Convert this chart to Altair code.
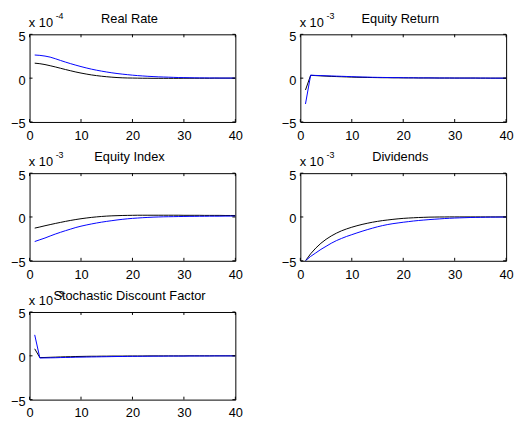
import altair as alt
import pandas as pd

steps = list(range(1, 41))

titles = ["Real Rate", "Equity Return", "Equity Index", "Dividends", "Stochastic Discount Factor"]
exponents = ["-4", "-3", "-3", "-3", "-3"]

x_ticks = [0, 10, 20, 30, 40]
y_ticks = [-5, 0, 5]

real_rate_black = [1.71, 1.65, 1.55, 1.42, 1.28, 1.13, 0.98, 0.84, 0.70, 0.58,
                   0.47, 0.37, 0.29, 0.22, 0.16, 0.11, 0.07, 0.04, 0.02, 0.01,
                   0.00, -0.01, -0.01, -0.02, -0.02, -0.02, -0.02, -0.02, -0.02, -0.01,
                   -0.01, -0.01, -0.01, -0.01, -0.01, 0.00, 0.00, 0.00, 0.00, 0.00]
real_rate_blue = [2.64, 2.60, 2.52, 2.40, 2.22, 2.02, 1.83, 1.65, 1.48, 1.32,
                  1.17, 1.03, 0.91, 0.80, 0.70, 0.61, 0.53, 0.46, 0.40, 0.34,
                  0.29, 0.25, 0.21, 0.18, 0.15, 0.13, 0.11, 0.09, 0.07, 0.06,
                  0.05, 0.04, 0.03, 0.03, 0.02, 0.02, 0.01, 0.01, 0.01, 0.00]

equity_return_black = [-1.35, 0.32, 0.29, 0.26, 0.23, 0.20, 0.18, 0.16, 0.14, 0.12,
                       0.10, 0.09, 0.08, 0.07, 0.06, 0.05, 0.05, 0.04, 0.04, 0.03,
                       0.03, 0.03, 0.02, 0.02, 0.02, 0.02, 0.01, 0.01, 0.01, 0.01,
                       0.01, 0.01, 0.01, 0.01, 0.00, 0.00, 0.00, 0.00, 0.00, 0.00]
equity_return_blue = [-2.95, 0.34, 0.31, 0.29, 0.27, 0.25, 0.23, 0.21, 0.19, 0.17,
                      0.15, 0.13, 0.12, 0.10, 0.09, 0.08, 0.07, 0.06, 0.06, 0.05,
                      0.04, 0.04, 0.03, 0.03, 0.03, 0.02, 0.02, 0.02, 0.02, 0.01,
                      0.01, 0.01, 0.01, 0.01, 0.01, 0.01, 0.00, 0.00, 0.00, 0.00]

equity_index_black = [-1.27, -1.14, -1.00, -0.87, -0.74, -0.62, -0.50, -0.39, -0.29, -0.20,
                      -0.12, -0.05, 0.01, 0.06, 0.10, 0.13, 0.15, 0.17, 0.18, 0.19,
                      0.20, 0.20, 0.20, 0.20, 0.20, 0.20, 0.20, 0.20, 0.20, 0.19,
                      0.19, 0.19, 0.19, 0.18, 0.18, 0.18, 0.18, 0.17, 0.17, 0.17]
equity_index_blue = [-2.80, -2.60, -2.40, -2.17, -1.95, -1.75, -1.56, -1.38, -1.20, -1.05,
                     -0.92, -0.80, -0.69, -0.59, -0.50, -0.42, -0.34, -0.27, -0.21, -0.16,
                     -0.12, -0.08, -0.05, -0.02, 0.00, 0.02, 0.03, 0.04, 0.05, 0.06,
                     0.07, 0.07, 0.08, 0.08, 0.09, 0.09, 0.09, 0.10, 0.10, 0.10]

dividends_black = [-5.00, -4.20, -3.55, -3.00, -2.55, -2.17, -1.85, -1.58, -1.36, -1.17,
                   -1.00, -0.85, -0.72, -0.60, -0.50, -0.41, -0.34, -0.27, -0.21, -0.16,
                   -0.12, -0.09, -0.06, -0.04, -0.02, -0.01, 0.00, 0.00, 0.01, 0.01,
                   0.01, 0.01, 0.01, 0.01, 0.01, 0.01, 0.01, 0.01, 0.01, 0.01]
dividends_blue = [-5.00, -4.50, -4.10, -3.70, -3.35, -3.00, -2.70, -2.45, -2.22, -2.02,
                  -1.82, -1.63, -1.45, -1.28, -1.12, -0.98, -0.86, -0.76, -0.68, -0.60,
                  -0.53, -0.46, -0.40, -0.35, -0.30, -0.26, -0.22, -0.18, -0.15, -0.12,
                  -0.10, -0.08, -0.06, -0.05, -0.04, -0.03, -0.02, -0.02, -0.01, -0.01]

sdf_black = [0.80, -0.20, -0.19, -0.17, -0.15, -0.13, -0.11, -0.10, -0.08, -0.07,
             -0.06, -0.05, -0.05, -0.04, -0.04, -0.03, -0.03, -0.03, -0.02, -0.02,
             -0.02, -0.02, -0.01, -0.01, -0.01, -0.01, -0.01, -0.01, -0.01, -0.01,
             0.00, 0.00, 0.00, 0.00, 0.00, 0.00, 0.00, 0.00, 0.00, 0.00]
sdf_blue = [2.39, -0.25, -0.24, -0.23, -0.22, -0.20, -0.19, -0.18, -0.16, -0.15,
            -0.14, -0.13, -0.12, -0.11, -0.10, -0.09, -0.08, -0.08, -0.07, -0.06,
            -0.06, -0.05, -0.05, -0.04, -0.04, -0.04, -0.03, -0.03, -0.03, -0.03,
            -0.02, -0.02, -0.02, -0.02, -0.02, -0.01, -0.01, -0.01, -0.01, -0.01]

series = [
    (real_rate_black, real_rate_blue),
    (equity_return_black, equity_return_blue),
    (equity_index_black, equity_index_blue),
    (dividends_black, dividends_blue),
    (sdf_black, sdf_blue),
]

W, H = 209, 89
FONT = "Liberation Sans"
FS = 13

xs = alt.Scale(domain=[0, 40], nice=False, zero=False)
ys = alt.Scale(domain=[-5, 5], nice=False, zero=False)


def panel(title, exp, black, blue):
    df = pd.DataFrame({
        "t": steps + steps,
        "v": black + blue,
        "s": ["k"] * len(steps) + ["b"] * len(steps),
    })
    lines = alt.Chart(df).mark_line(strokeWidth=1, clip=True).encode(
        x=alt.X("t:Q", scale=xs, title=None,
                axis=alt.Axis(values=x_ticks, labelPadding=7.5)),
        y=alt.Y("v:Q", scale=ys, title=None,
                axis=alt.Axis(values=y_ticks, labelPadding=4.5, labelOffset=2,
                              labelExpr="datum.value < 0 ? datum.label + ' ' : datum.label")),
        color=alt.Color("s:N", scale=alt.Scale(domain=["k", "b"], range=["#000000", "#0000ff"]),
                        legend=None),
        detail="s:N",
    )
    xt = alt.Chart(pd.DataFrame({"tx": x_ticks}))
    yt = alt.Chart(pd.DataFrame({"ty": y_ticks}))
    tick_bottom = xt.mark_rule(color="black", strokeWidth=1).encode(
        x=alt.X("tx:Q", scale=xs, axis=None), y=alt.value(H), y2=alt.value(H - 3))
    tick_top = xt.mark_rule(color="black", strokeWidth=1).encode(
        x=alt.X("tx:Q", scale=xs, axis=None), y=alt.value(0), y2=alt.value(3))
    tick_left = yt.mark_rule(color="black", strokeWidth=1).encode(
        y=alt.Y("ty:Q", scale=ys, axis=None), x=alt.value(0), x2=alt.value(3))
    tick_right = yt.mark_rule(color="black", strokeWidth=1).encode(
        y=alt.Y("ty:Q", scale=ys, axis=None), x=alt.value(W), x2=alt.value(W - 3))
    tdf = pd.DataFrame({"title": [title], "base": ["x 10"], "exp": [exp]})
    tc = alt.Chart(tdf)
    title_mark = tc.mark_text(font=FONT, fontSize=FS, align="center", baseline="alphabetic",
                              color="black").encode(
        x=alt.value(W / 2 - 3), y=alt.value(-12), text="title:N")
    base_mark = tc.mark_text(font=FONT, fontSize=FS, align="left", baseline="alphabetic",
                             color="black").encode(
        x=alt.value(-0.7), y=alt.value(-7), text="base:N")
    exp_mark = tc.mark_text(font=FONT, fontSize=9, align="left", baseline="alphabetic",
                            color="black").encode(
        x=alt.value(26.5), y=alt.value(-15.5), text="exp:N")
    return alt.layer(lines, tick_bottom, tick_top, tick_left, tick_right,
                     base_mark, exp_mark, title_mark).resolve_axis(
        x="independent", y="independent").properties(width=W, height=H)


panels = [panel(titles[i], exponents[i], series[i][0], series[i][1]) for i in range(5)]

chart = alt.concat(*panels, columns=2, spacing=alt.RowColnumber(row=52, column=66),
                   bounds="flush").configure(
    padding={"left": 1.9, "top": 0.5, "right": 0, "bottom": 0},
    background="white",
).configure_view(
    stroke="black", strokeWidth=1,
).configure_axis(
    domain=False, ticks=False, grid=False, labelFlush=False, labelOverlap=False,
    labelFont=FONT, labelFontSize=FS, labelColor="black",
)

chart.save("out.html", embed_options={"renderer": "svg", "actions": False})
